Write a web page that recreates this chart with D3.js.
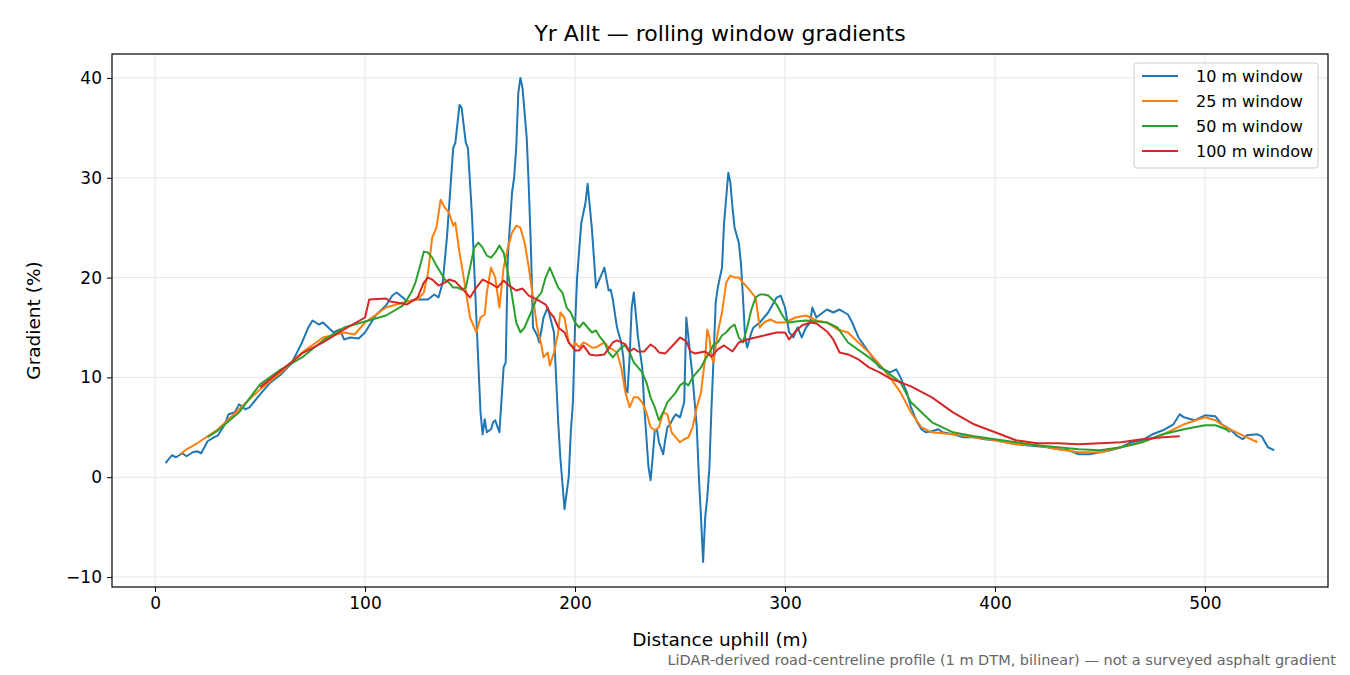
<!DOCTYPE html>
<html><head><meta charset="utf-8">
<script src="https://cdn.jsdelivr.net/npm/d3@7"></script>
<style>body{margin:0;background:#fff}svg{font-family:"DejaVu Sans",sans-serif}</style>
</head><body><svg id="chart" width="1350" height="675"></svg>
<script>
// gradient (%) against distance uphill (m)
var w10 = [[5,1.4],[8,2.2],[10,2.0],[13,2.4],[15,2.1],[18,2.5],[20,2.6],[22,2.4],[25,3.6],[28,4.0],[30,4.2],[33,5.2],[35,6.3],[38,6.5],[40,7.3],[43,6.8],[45,7.0],[50,8.3],[55,9.5],[60,10.3],[65,11.4],[70,13.5],[73,15.0],[75,15.7],[78,15.3],[80,15.5],[85,14.5],[88,14.8],[90,13.8],[93,14.0],[97,13.9],[100,14.5],[105,16.2],[110,17.2],[113,18.2],[115,18.5],[118,18.0],[120,17.6],[125,17.8],[130,17.8],[133,18.3],[135,18.0],[137,19.5],[139,24],[141,30],[142,33],[143,33.5],[145,37.3],[146,37.0],[148,33.5],[149,33],[151,26],[153,16],[155,6.5],[156,4.3],[157,5.8],[158,4.5],[160,4.8],[161,5.5],[162,5.7],[164,4.5],[166,11],[167,11.5],[168,22],[170,28.5],[171,30],[172,33],[173,38.5],[174,40],[175,39],[177,34],[178,29],[179,23],[180,15],[182,14.2],[183,13.5],[185,16],[187,17],[190,14.5],[192,5.5],[193,2],[195,-3.2],[197,0],[198,4.5],[199,7.5],[200,15],[201,20],[203,25.5],[205,27.5],[206,29.4],[208,25],[210,19],[213,20.5],[214,21],[216,18.7],[217,18.8],[218,17.8],[220,15],[222,13.5],[223,12.0],[224,9],[225,8.5],[226,12],[227,17],[228,18.5],[230,14],[232,11],[233,7],[234,4],[235,1],[236,-0.3],[237,2.0],[238,4.7],[239,4.8],[240,3.5],[242,2.3],[243,3.8],[244,5.0],[245,5.2],[247,6.0],[248,6.3],[250,6.0],[252,7.5],[253,16],[255,12],[256,10],[258,5],[259,0],[260,-4],[261,-8.5],[262,-4],[263,-2],[264,1],[265,7],[266,12],[267,17.5],[268,19],[270,21],[271,25.5],[272,28],[273,30.5],[274,29.5],[275,27],[276,25],[278,23.5],[279,21.5],[280,18],[281,14],[282,13],[284,14.5],[285,15],[288,15.5],[292,16.5],[296,18.0],[298,18.2],[300,17],[302,14.5],[304,14],[306,15],[308,14],[310,15],[312,15.5],[313,17],[315,16],[318,16.5],[320,16.8],[323,16.5],[326,16.8],[330,16.3],[332,15.5],[335,14],[340,12.5],[345,11],[350,10.5],[353,10.8],[355,10],[358,8.5],[360,7],[363,5.5],[365,4.8],[367,4.5],[370,4.6],[373,4.8],[375,4.5],[380,4.3],[385,4.0],[390,4.0],[395,3.8],[400,3.7],[405,3.5],[410,3.3],[415,3.2],[420,3.1],[425,3.0],[430,2.8],[435,2.7],[440,2.3],[445,2.3],[450,2.5],[455,2.7],[460,3.0],[465,3.5],[470,3.7],[475,4.3],[480,4.7],[485,5.3],[488,6.3],[490,6.0],[495,5.7],[500,6.2],[505,6.1],[508,5.3],[512,4.8],[515,4.2],[518,3.8],[520,4.2],[525,4.3],[527,4.1],[530,3.0],[533,2.7]];
var w25 = [[12,2.3],[15,2.8],[20,3.4],[30,4.8],[40,6.8],[50,8.8],[60,10.5],[70,12.5],[80,14.0],[90,14.5],[95,14.3],[100,15.5],[110,17.0],[115,17.3],[120,17.6],[125,17.8],[128,18.5],[130,20.5],[132,24],[134,25],[136,27.8],[138,27.0],[140,26.5],[142,25.2],[143,25.5],[145,22.5],[147,20],[150,16],[152,15],[153,14.5],[155,16],[157,16.3],[158,18.5],[160,21],[162,20],[164,17],[166,21],[168,23],[170,24.5],[172,25.2],[174,25],[176,23.5],[178,21],[180,18],[182,15],[184,13.2],[185,12],[187,12.5],[188,11.2],[190,12.5],[192,14.5],[193,16.5],[195,16],[197,13.5],[199,13],[200,13.5],[202,13],[204,13.5],[206,13.3],[208,13],[210,13],[214,13.5],[216,13.0],[218,12.8],[220,12.5],[222,11.0],[224,8.5],[226,7],[228,8],[230,8],[232,7.5],[234,6.5],[236,5.0],[238,4.7],[240,5.0],[242,6.5],[244,6.3],[246,4.5],[248,4.0],[250,3.5],[252,3.8],[254,4.0],[256,5],[258,7],[260,8.5],[262,12],[263,14.8],[264,14],[265,12],[266,11.5],[267,13],[268,14.5],[270,16.5],[272,19.5],[274,20.2],[276,20],[278,20],[280,19.5],[283,18.8],[286,18.0],[288,15],[290,15.5],[293,15.8],[296,15.5],[300,15.5],[305,16],[310,16.2],[315,15.7],[320,15.5],[325,14.8],[330,14.5],[335,13.5],[340,12.5],[345,11.3],[350,10],[355,8.5],[360,6.5],[365,5],[370,4.5],[380,4.3],[390,4.0],[400,3.7],[410,3.3],[420,3.2],[430,2.8],[440,2.5],[450,2.5],[460,3.0],[470,3.5],[480,4.3],[490,5.3],[500,6.0],[505,5.7],[510,5.0],[515,4.5],[520,4.0],[525,3.5]];
var w50 = [[25,4.0],[30,4.7],[40,6.5],[50,9.3],[60,10.8],[70,12.0],[80,13.7],[90,15.0],[100,15.6],[110,16.2],[118,17.2],[120,17.8],[122,18.5],[124,19.5],[126,21],[128,22.6],[130,22.5],[132,22],[134,21.2],[136,20.5],[138,19.8],[140,19.5],[142,19],[144,19],[146,18.8],[148,19],[150,21],[152,23],[154,23.5],[156,23],[158,22.2],[160,22],[162,22.5],[164,23.2],[166,22.5],[168,20.5],[170,18.2],[172,15.5],[174,14.5],[176,15],[178,16],[180,17],[182,18.0],[184,18.5],[186,20],[188,21],[190,20],[192,19],[194,18.5],[196,17],[198,16.5],[200,15.5],[202,15],[204,15.5],[206,15],[208,14.5],[210,14.7],[212,14.0],[214,13.5],[216,12.5],[218,12],[220,12.5],[222,13.0],[224,13.2],[226,12.5],[228,11.5],[230,11],[232,10.5],[234,9.5],[236,8],[238,7],[240,5.7],[242,6.5],[244,7.5],[246,8],[248,8.5],[250,9.2],[252,9.5],[254,9.2],[256,10],[258,10.5],[260,11],[262,11.8],[264,12.5],[266,13.3],[268,13.5],[270,14.2],[272,14.5],[274,15],[276,15.3],[278,14],[280,13.5],[282,15],[284,16.8],[286,18],[288,18.3],[290,18.3],[292,18.2],[294,17.8],[296,17.3],[298,16.5],[300,15.8],[302,15.5],[305,15.6],[310,15.7],[320,15.5],[325,15.0],[330,13.5],[340,12.0],[350,10.3],[355,9.5],[360,7.5],[370,5.5],[380,4.5],[390,4.1],[400,3.8],[410,3.5],[420,3.2],[430,3.0],[440,2.8],[450,2.7],[460,3.0],[470,3.5],[480,4.3],[490,4.8],[500,5.2],[505,5.2],[510,4.8],[512,4.5]];
var w100 = [[50,9.0],[60,10.7],[70,12.4],[80,13.5],[90,14.8],[100,16.0],[102,17.8],[110,17.9],[112,17.6],[115,17.5],[120,17.3],[125,18.0],[128,19.5],[130,20.0],[132,19.8],[135,19.2],[138,19.5],[140,19.8],[143,19.6],[148,18.5],[150,18.0],[153,19.0],[156,19.8],[160,19.4],[163,19.0],[166,19.7],[168,19.3],[170,19.0],[172,18.7],[175,18.9],[178,18.2],[182,17.8],[186,17.3],[188,16.5],[190,16.0],[192,15.0],[195,14.5],[197,13.5],[200,12.7],[202,12.7],[204,13.2],[205,12.9],[207,12.3],[210,12.2],[214,12.3],[218,13.5],[220,13.7],[222,13.5],[224,13.3],[226,12.6],[228,12.9],[230,12.6],[233,12.6],[236,13.3],[238,13.0],[240,12.5],[243,12.4],[247,13.3],[250,14.0],[253,13.6],[255,12.6],[257,12.4],[262,12.6],[265,12.1],[268,12.8],[271,13.2],[275,12.6],[278,13.5],[282,13.8],[288,14.1],[292,14.3],[296,14.5],[300,14.5],[302,13.8],[305,14.6],[308,15.2],[312,15.5],[315,15.4],[320,14.6],[323,13.8],[326,12.5],[330,12.3],[335,11.8],[340,11.0],[345,10.5],[350,9.9],[355,9.5],[360,9.1],[370,8.0],[380,6.5],[390,5.3],[400,4.5],[410,3.7],[420,3.4],[430,3.4],[440,3.3],[450,3.4],[460,3.5],[470,3.8],[480,4.0],[488,4.1]];
var seriesNames = ["10 m window","25 m window","50 m window","100 m window"];
var seriesColors = ["#1f77b4","#ff7f0e","#2ca02c","#d62728"];
var xTicks = [0,100,200,300,400,500];
var yTicks = [-10,0,10,20,30,40];

var svg = d3.select("#chart");
var L = 112, R = 1328, T = 54, B = 587;
var x = d3.scaleLinear().domain([-20.5, 558.6]).range([L, R]);
var y = d3.scaleLinear().domain([-11.0, 42.4]).range([B, T]);

// grid
svg.append("g").selectAll("line").data(xTicks).enter().append("line")
    .attr("x1", function(d){ return x(d); }).attr("x2", function(d){ return x(d); })
    .attr("y1", T).attr("y2", B).attr("stroke","#e6e6e6").attr("stroke-width",1);
svg.append("g").selectAll("line").data(yTicks).enter().append("line")
    .attr("y1", function(d){ return y(d); }).attr("y2", function(d){ return y(d); })
    .attr("x1", L).attr("x2", R).attr("stroke","#e6e6e6").attr("stroke-width",1);

var line = d3.line().x(function(d){ return x(d[0]); }).y(function(d){ return y(d[1]); });
[w10, w25, w50, w100].forEach(function(s, i){
    svg.append("path").datum(s).attr("d", line).attr("fill","none")
        .attr("stroke", seriesColors[i]).attr("stroke-width", 2).attr("stroke-linejoin","round");
});

svg.append("rect").attr("x",L).attr("y",T).attr("width",R-L).attr("height",B-T)
    .attr("fill","none").attr("stroke","#000").attr("stroke-width",1.2);

var xa = svg.append("g").attr("transform","translate(0,"+B+")")
    .call(d3.axisBottom(x).tickValues(xTicks).tickSize(5).tickPadding(5));
var ya = svg.append("g").attr("transform","translate("+L+",0)")
    .call(d3.axisLeft(y).tickValues(yTicks).tickSize(5).tickPadding(5)
        .tickFormat(function(d){ return d < 0 ? "\u2212" + Math.abs(d) : d; }));
[xa, ya].forEach(function(a){
    a.select(".domain").remove();
    a.selectAll("text").attr("font-size",17).attr("font-family","DejaVu Sans").attr("fill","#000");
    a.selectAll("line").attr("stroke","#000");
});

svg.append("text").attr("x",(L+R)/2).attr("y",41).attr("text-anchor","middle")
    .attr("font-size",22).text("Yr Allt \u2014 rolling window gradients");
svg.append("text").attr("x",(L+R)/2).attr("y",646).attr("text-anchor","middle")
    .attr("font-size",18.5).text("Distance uphill (m)");
svg.append("text").attr("transform","translate(40,"+((T+B)/2)+") rotate(-90)")
    .attr("text-anchor","middle").attr("font-size",18.5).text("Gradient (%)");
svg.append("text").attr("x",1336).attr("y",665).attr("text-anchor","end")
    .attr("font-size",14.5).attr("fill","#666")
    .text("LiDAR-derived road-centreline profile (1 m DTM, bilinear) \u2014 not a surveyed asphalt gradient");

// legend
var lg = svg.append("g").attr("transform","translate(1134,63)");
lg.append("rect").attr("width",184).attr("height",105).attr("rx",3)
    .attr("fill","#fff").attr("fill-opacity",0.8).attr("stroke","#ccc");
var items = lg.selectAll("g").data(seriesNames).enter().append("g")
    .attr("transform", function(d, i){ return "translate(8," + (13 + i*25) + ")"; });
items.append("line").attr("x1",0).attr("x2",36).attr("stroke-width",2)
    .attr("stroke", function(d, i){ return seriesColors[i]; });
items.append("text").attr("x",54).attr("y",5.5).attr("font-size",16).text(function(d){ return d; });
</script></body></html>
